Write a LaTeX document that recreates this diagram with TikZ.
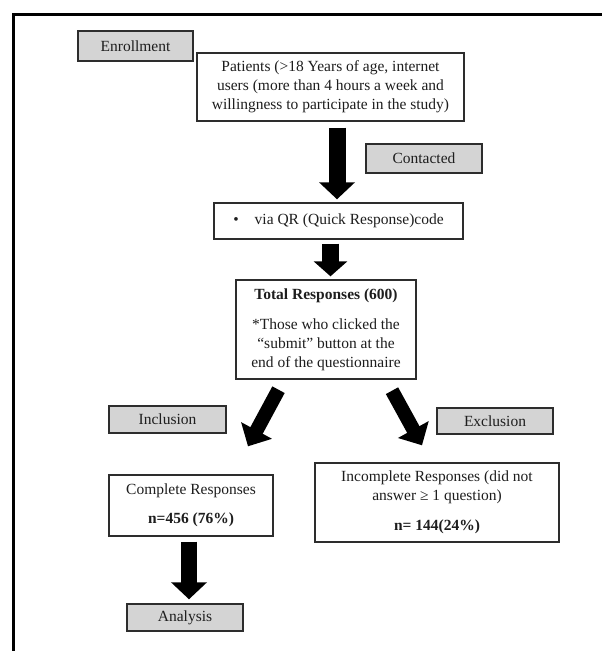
\documentclass[tikz,border=0pt]{standalone}
\usepackage{fontspec}
\setmainfont{Liberation Serif}
\usetikzlibrary{arrows.meta,calc}
\definecolor{boxgray}{RGB}{212,212,212}
\definecolor{edgegray}{RGB}{45,45,45}
\definecolor{txt}{RGB}{30,30,30}
\begin{document}
\begin{tikzpicture}[x=1pt,y=-1pt,
  every node/.style={font=\fontsize{15.5}{19}\selectfont, text=txt},
  box/.style={draw=edgegray, line width=1.4pt, fill=white, inner sep=0pt, align=center},
  graybox/.style={box, fill=boxgray},
  blockarrow/.style={draw=black, line width=17pt, -{Triangle[length=17pt,width=35pt]}},
  slantarrow/.style={draw=black, line width=14pt, -{Triangle[length=18pt,width=34pt]}}
]
\useasboundingbox (0,0) rectangle (602,651);
% outer frame
\draw[line width=2.5pt] (13.5,651) -- (13.5,14.5) -- (602,14.5);

% nodes
\node[graybox, minimum width=115pt, minimum height=30pt] (enroll) at (135.5,46) {Enrollment};
\node[box, minimum width=267pt, minimum height=68pt] (patients) at (330.5,87)
  {Patients (>18 Years of age, internet\\users (more than 4 hours a week and\\willingness to participate in the study)};
\node[graybox, minimum width=116pt, minimum height=29pt] (contacted) at (424,158.5) {Contacted};
\node[box, minimum width=249pt, minimum height=36pt] (qr) at (338.5,221)
  {•\hspace{16pt}via QR (Quick Response)code};
\node[box, minimum width=180pt, minimum height=99pt] (total) at (326,329.5)
  {\textbf{Total Responses (600)}\\[11pt]*Those who clicked the\\“submit” button at the\\end of the questionnaire};
\node[graybox, minimum width=117pt, minimum height=27pt] (inclusion) at (167.5,419.5) {Inclusion};
\node[graybox, minimum width=116pt, minimum height=26pt] (exclusion) at (495,421) {Exclusion};
\node[box, minimum width=164pt, minimum height=61pt] (complete) at (191,505.5)
  {Complete Responses\\[10pt]\textbf{n=456 (76\%)}};
\node[box, minimum width=244pt, minimum height=79pt] (incomplete) at (437,502.5)
  {Incomplete Responses (did not\\answer ≥ 1 question)\\[11pt]\textbf{n= 144(24\%)}};
\node[graybox, minimum width=116pt, minimum height=27pt] (analysis) at (185,617.5) {Analysis};

% arrows
\draw[blockarrow] ($(patients.south)+(6.5,6)$) -- ($(qr.north)+(-1.5,-3)$);
\draw[blockarrow, -{Triangle[length=15pt,width=33pt]}] ($(qr.south)+(-8,4)$) -- ($(total.north)+(4.5,-3)$);
\draw[slantarrow] ($(total.south)+(-47.5,10)$) -- ($(complete.north)+(57,-28)$);
\draw[slantarrow] ($(total.south)+(66,11)$) -- ($(incomplete.north)+(-15,-17)$);
\draw[blockarrow, line width=16pt] ($(complete.south)+(-2,5)$) -- ($(analysis.north)+(4,-4)$);
\end{tikzpicture}
\end{document}
